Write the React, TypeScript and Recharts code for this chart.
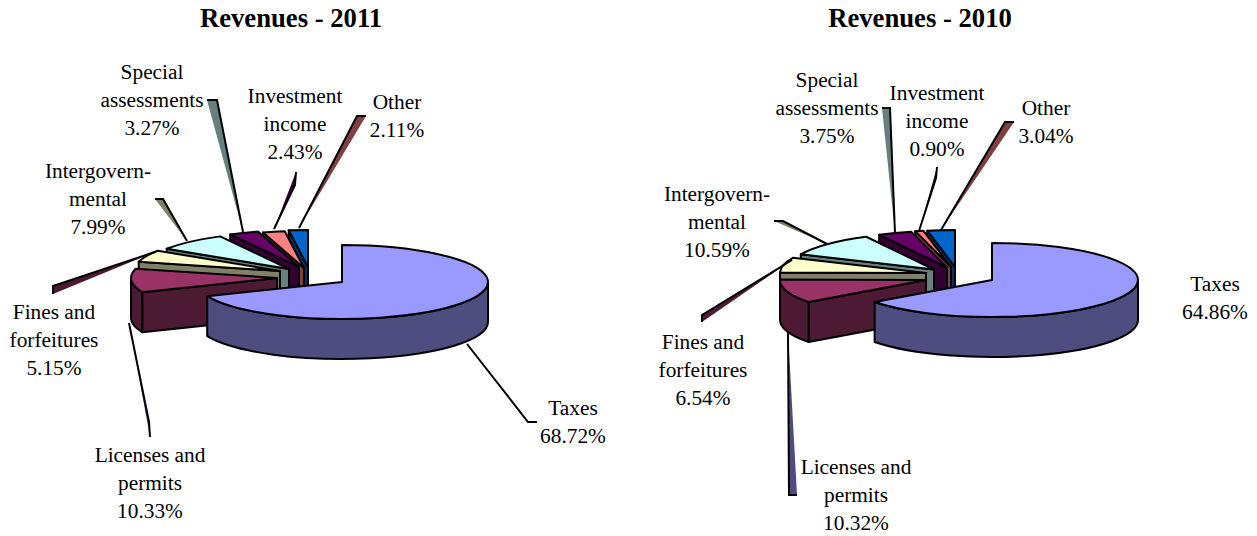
import React from "react";
import { PieChart, Pie } from "recharts";

const categories = ["Taxes", "Licenses and permits", "Fines and forfeitures", "Intergovernmental", "Special assessments", "Investment income", "Other"];
const values2011 = [68.72, 10.33, 5.15, 7.99, 3.27, 2.43, 2.11];
const values2010 = [64.86, 10.32, 6.54, 10.59, 3.75, 0.9, 3.04];
const topColors = ["#9999FF", "#993366", "#FFFFCC", "#CCFFFF", "#660066", "#FF8080", "#0066CC"];
const wallColors = ["#4D4D80", "#4D1A33", "#808066", "#668080", "#330033", "#804040", "#003366"];
const leaderColors = ["none", "#4D4D80", "#4D1A33", "#808066", "#668080", "#330033", "#804040"];
const labelWords = [["Taxes"], ["Licenses and", "permits"], ["Fines and", "forfeitures"], ["Intergovern-", "mental"], ["Special", "assessments"], ["Investment", "income"], ["Other"]];

const RX = 146;
const RY = 37;
const DEPTH = 40;
const FONT = "'Liberation Serif', 'Times New Roman', serif";

type P = [number, number];
type Layout = {
  cx: number; cy: number; title: number;
  offsets: P[];
  labels: P[];
  leaders: ({ from: P; elbow: P; outer: P } | null)[];
};

const layout2011: Layout = {
  cx: 342, cy: 282, title: 291,
  offsets: [[0, 0], [-65, -4], [-62, -11], [-53, -13], [-43, -15], [-38, -14], [-34, -15]],
  labels: [[573, 415], [150, 462], [54, 319], [98, 178], [152, 79], [295, 103], [397, 109]],
  leaders: [
    { from: [467, 344], elbow: [528, 422], outer: [537, 422] },
    { from: [129, 323], elbow: [149, 422], outer: [150, 437] },
    { from: [155, 252], elbow: [53, 286], outer: [53, 294] },
    { from: [187, 241], elbow: [163, 199], outer: [155, 199] },
    { from: [243, 232], elbow: [217, 100], outer: [207, 100] },
    { from: [274, 229], elbow: [295, 185], outer: [296, 172] },
    { from: [299, 228], elbow: [357, 116], outer: [366, 116] },
  ],
};

const layout2010: Layout = {
  cx: 992, cy: 280, title: 920,
  offsets: [[0, 0], [-66, 0], [-66, -7], [-58, -10.5], [-45, -12.5], [-41, -13], [-37, -13]],
  labels: [[1215, 291], [856, 474], [703, 349], [717, 201], [827, 87], [937, 100], [1046, 115]],
  leaders: [
    null,
    { from: [788, 332], elbow: [789, 495], outer: [797, 495] },
    { from: [792, 260], elbow: [702, 315], outer: [702, 322] },
    { from: [827, 244], elbow: [783, 221], outer: [774, 221] },
    { from: [895, 233], elbow: [890, 108], outer: [882, 108] },
    { from: [919, 231], elbow: [936, 178], outer: [937, 167] },
    { from: [941, 230], elbow: [1005, 122], outer: [1014, 122] },
  ],
};

// Painter's order: the small slices at the back first, Taxes last.
const makeRows = (values: number[]) =>
  categories.map((name, i) => ({ name, value: values[i], idx: i })).reverse();

function makeShape(l: Layout) {
  return (props: any) => {
    const idx = props.payload?.idx ?? props.idx;
    const lo = Math.min(props.startAngle, props.endAngle);
    const hi = Math.max(props.startAngle, props.endAngle);
    const t1 = ((450 - hi) % 360 + 360) % 360;
    const t2 = t1 + (hi - lo);
    const [dx, dy] = l.offsets[idx];
    const ax = props.cx + dx;
    const ay = props.cy + dy;
    const pt = (t: number, d = 0): P => {
      const r = (t * Math.PI) / 180;
      return [ax + RX * Math.sin(r), ay - RY * Math.cos(r) + d];
    };
    const s = pt(t1);
    const e = pt(t2);
    const top = `M${ax},${ay}L${s[0]},${s[1]}A${RX},${RY} 0 ${t2 - t1 > 180 ? 1 : 0} 1 ${e[0]},${e[1]}Z`;
    const a = Math.max(t1, 90);
    const b = Math.min(t2, 270);
    let outer: string | null = null;
    if (a < b) {
      const p = pt(a), q = pt(b), qd = pt(b, DEPTH), pd = pt(a, DEPTH);
      outer = `M${p[0]},${p[1]}A${RX},${RY} 0 0 1 ${q[0]},${q[1]}L${qd[0]},${qd[1]}A${RX},${RY} 0 0 0 ${pd[0]},${pd[1]}Z`;
    }
    const radial = t1 > 180 && t1 < 360
      ? `M${ax},${ay}L${s[0]},${s[1]}L${s[0]},${s[1] + DEPTH}L${ax},${ay + DEPTH}Z`
      : null;
    const common = { stroke: "#000", strokeWidth: 2, strokeLinejoin: "round" as const };
    return (
      <g>
        {radial && <path d={radial} fill={wallColors[idx]} {...common} />}
        {outer && <path d={outer} fill={wallColors[idx]} {...common} />}
        <path d={top} fill={topColors[idx]} {...common} />
      </g>
    );
  };
}

function makeLabel(l: Layout, values: number[]) {
  return (props: any) => {
    const idx = props.payload?.idx ?? props.idx;
    const [x, y] = l.labels[idx];
    const lines = [...labelWords[idx], `${values[idx].toFixed(2)}%`];
    return (
      <text x={x} y={y} textAnchor="middle" fontFamily={FONT} fontSize={21.33} fill="#000">
        {lines.map((t, i) => (
          <tspan key={i} x={x} dy={i === 0 ? 0 : 28}>{t}</tspan>
        ))}
      </text>
    );
  };
}

function makeLeader(l: Layout) {
  return (props: any) => {
    const idx = props.payload?.idx ?? props.idx;
    const g = l.leaders[idx];
    if (!g) return <g />;
    const { from, elbow, outer } = g;
    return (
      <g>
        <path d={`M${outer[0]},${outer[1]}L${elbow[0]},${elbow[1]}L${from[0]},${from[1]}Z`} fill={leaderColors[idx]} stroke="none" />
        <path d={`M${outer[0]},${outer[1]}L${elbow[0]},${elbow[1]}L${from[0]},${from[1]}`} fill="none" stroke="#000" strokeWidth={2} />
      </g>
    );
  };
}

function Chart3D(l: Layout, values: number[], key: string) {
  const shape = makeShape(l);
  return (
    <Pie
      key={key}
      data={makeRows(values)}
      dataKey="value"
      nameKey="name"
      cx={l.cx}
      cy={l.cy}
      outerRadius={RX}
      startAngle={90}
      endAngle={450}
      stroke="none"
      isAnimationActive={false}
      shape={shape}
      activeShape={shape}
      label={makeLabel(l, values)}
      labelLine={makeLeader(l)}
    />
  );
}

export default function App() {
  return (
    <div style={{ position: "absolute", left: 0, top: 0, width: 1257, height: 536 }}>
      <PieChart width={1257} height={536} margin={{ top: 0, right: 0, bottom: 0, left: 0 }}>
        {Chart3D(layout2011, values2011, "y2011")}
        {Chart3D(layout2010, values2010, "y2010")}
        <text x={layout2011.title} y={27} textAnchor="middle" fontFamily={FONT} fontWeight="bold" fontSize={26.67}>Revenues - 2011</text>
        <text x={layout2010.title} y={27} textAnchor="middle" fontFamily={FONT} fontWeight="bold" fontSize={26.67}>Revenues - 2010</text>
      </PieChart>
    </div>
  );
}
